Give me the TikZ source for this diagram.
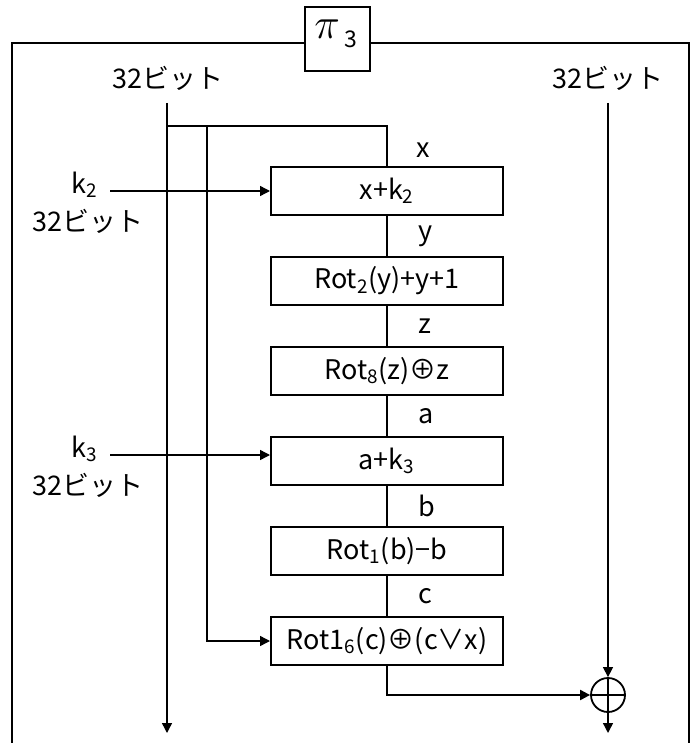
\documentclass[tikz,border=0pt]{standalone}
\usepackage{fontspec}
\setmainfont{Noto Sans CJK JP}
\usetikzlibrary{arrows.meta,positioning}

\begin{document}
\begin{tikzpicture}[
  x=0.5pt, y=-0.5pt,
  font=\fontsize{13.5}{15}\selectfont,
  node distance=20pt,
  opbox/.style={
    draw,
    line width=1pt,
    minimum width=116pt,
    minimum height=24pt,
    inner sep=0pt
  },
  titlebox/.style={
    draw,
    line width=1pt,
    minimum width=32.5pt,
    minimum height=32pt
  },
  xorop/.style={
    draw,
    circle,
    line width=0.9pt,
    minimum size=17pt,
    inner sep=0pt
  },
  frame/.style={line width=1pt},
  bus/.style={line width=1pt},
  wire/.style={line width=0.7pt},
  arr/.style={-{Triangle[length=5pt,width=5pt]}},
  var/.style={inner sep=1pt}
]
\useasboundingbox (0,0) rectangle (698,743);

% Frame and title
\node[titlebox] (pi) at (337.5,39) {};
\node[anchor=north west, inner sep=0pt] (pitxt) at ([shift={(5pt,-7pt)}]pi.north west)
  {\scalebox{1.5}{$\pi$}\,\raisebox{-0.6ex}{\fontsize{11.5}{12}\selectfont 3}};
\draw[frame] (pi.west |- 0,43) -- (12,43) -- (12,743);
\draw[frame] (pi.east |- 0,43) -- (689,43) -- (689,743);

% Inputs
\node (bitsL) at (168,78) {32ビット};
\node (bitsR) at (608,78) {32ビット};
\coordinate (inL) at (167,103);
\coordinate (outL) at (167,733);
\coordinate (br) at (167,126);
\coordinate (br2) at (207,126);
\coordinate (inR) at (608,103);
\coordinate (outR) at (608,733);

% Round function
\node[opbox] (add2) at (387,191) {x+k\textsubscript{2}};
\node[opbox, below=of add2] (rot2) {Rot\textsubscript{2}(y)+y+1};
\node[opbox, below=of rot2] (rot8) {Rot\textsubscript{8}(z)⊕z};
\node[opbox, below=of rot8] (add3) {a+k\textsubscript{3}};
\node[opbox, below=of add3] (rot1) {Rot\textsubscript{1}(b)−b};
\node[opbox, below=of rot1] (rot16) {Rot1\textsubscript{6}(c)⊕(c∨x)};
\node[xorop] (xor) at (608,695) {};

% Round keys
\node (k2) at (85,185) {k\textsubscript{2}};
\node (k2bits) at (88,221) {32ビット};
\coordinate (k2in) at (110,191);
\node (k3) at (85,449) {k\textsubscript{3}};
\node (k3bits) at (88,485) {32ビット};
\coordinate (k3in) at (110,455);

% Data path
\draw[wire, arr] (inL) -- (outL);
\draw[bus] (br) -| (add2.north);
\node[var] (lx) at ([shift={(36,-16)}]add2.north) {x};
\draw[bus] (add2) -- (rot2) node[var, midway, right=14pt] (ly) {y};
\draw[bus] (rot2) -- (rot8) node[var, midway, right=14pt] (lz) {z};
\draw[bus] (rot8) -- (add3) node[var, midway, right=14pt] (la) {a};
\draw[bus] (add3) -- (rot1) node[var, midway, right=14pt] (lb) {b};
\draw[bus] (rot1) -- (rot16) node[var, midway, right=14pt] (lc) {c};
\draw[wire, arr] (br2) |- (rot16.west);
\draw[wire, arr] (k2in) -- (k2in -| add2.west);
\draw[wire, arr] (k3in) -- (k3in -| add3.west);
\draw[bus, arr] (rot16.south) |- (xor.west);

% Output xor
\draw[wire, arr] (inR) -- (xor.north);
\draw[line width=0.9pt] (xor.north) -- (xor.south) (xor.west) -- (xor.east);
\draw[wire, arr] (xor.south) -- (outR);

\end{tikzpicture}
\end{document}
